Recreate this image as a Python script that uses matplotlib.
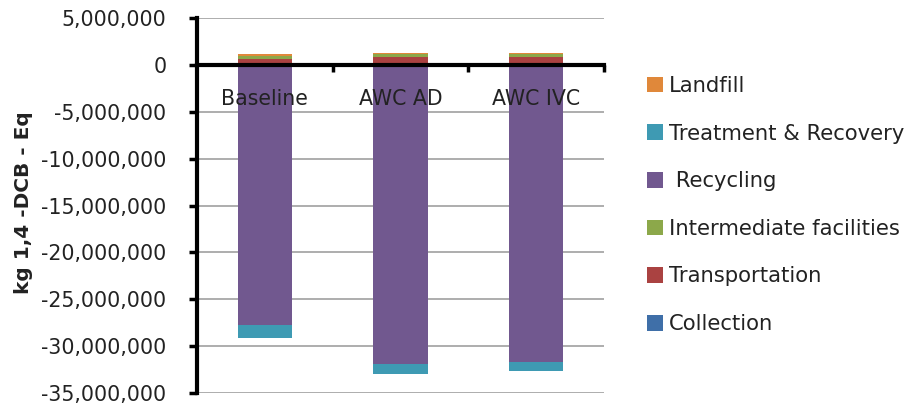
import matplotlib
matplotlib.use("Agg")
import matplotlib.pyplot as plt
import numpy as np
from matplotlib.patches import Patch
from matplotlib.ticker import FuncFormatter

# Scenario results, kg 1,4-DCB eq, per life-cycle stage
scenarios = ["Baseline", "AWC AD", "AWC IVC"]
collection = [30000, 30000, 30000]
transportation = [600000, 820000, 820000]
intermediate = [300000, 300000, 300000]
recycling = [-27700000, -31900000, -31700000]
treatment_recovery = [-1450000, -1070000, -1000000]
landfill = [200000, 150000, 150000]

stages = [
    ("Collection", collection, "#3F6FA8"),
    ("Transportation", transportation, "#AA4241"),
    ("Intermediate facilities", intermediate, "#8CA84A"),
    (" Recycling", recycling, "#71588F"),
    ("Treatment & Recovery", treatment_recovery, "#3E9AB3"),
    ("Landfill", landfill, "#E0883A"),
]

plt.rcParams["font.family"] = ["DejaVu Sans"]

fig = plt.figure(figsize=(9.14, 4.08), dpi=100)
ax = fig.add_axes([197 / 914, 15 / 408, (604 - 197) / 914, (393 - 18) / 408])

x = np.arange(len(scenarios))
pos_base = np.zeros(len(scenarios))
neg_base = np.zeros(len(scenarios))
for name, vals, color in stages:
    v = np.array(vals, dtype=float)
    bottom = np.where(v >= 0, pos_base, neg_base)
    ax.bar(x, v, width=0.4, bottom=bottom, color=color, edgecolor="none", zorder=3)
    pos_base = pos_base + np.where(v >= 0, v, 0)
    neg_base = neg_base + np.where(v < 0, v, 0)

ax.set_xlim(-0.5, 2.5)
ax.set_ylim(-35000000, 5000000)
ax.set_yticks(np.arange(-35000000, 5000001, 5000000))
ax.yaxis.set_major_formatter(FuncFormatter(lambda v, p: f"{int(v):,}"))
ax.grid(axis="y", color="#A0A0A0", linewidth=1.2, zorder=0)

for s in ["top", "right"]:
    ax.spines[s].set_visible(False)
ax.spines["left"].set_linewidth(3)
ax.spines["bottom"].set_position(("data", 0))
ax.spines["bottom"].set_linewidth(3)
ax.spines["bottom"].set_zorder(4)

ax.set_xticks([0.5, 1.5, 2.5])
ax.set_xticklabels([])
ax.tick_params(axis="x", direction="out", length=5, width=2.5, color="black")
ax.tick_params(axis="y", direction="out", length=6, width=2.5, color="black",
               labelsize=14.8, labelcolor="#222222", pad=16)

for xi, name in zip(x, scenarios):
    ax.text(xi, -3600000, name, ha="center", va="center", fontsize=14.8,
            color="#222222", zorder=5)

fig.text(24 / 914, (408 - 203) / 408, "kg 1,4 -DCB - Eq", rotation=90,
         ha="center", va="center", fontsize=14.5, fontweight="bold", color="#222222")

handles = [Patch(facecolor=c, edgecolor="none", label=n) for n, _, c in stages[::-1]]
fig.legend(handles=handles, loc="center left", bbox_to_anchor=(628 / 914, (408 - 205) / 408),
           frameon=False, fontsize=15.2, handlelength=0.75, handleheight=0.75,
           handletextpad=0.3, labelspacing=1.31, labelcolor="#222222")

fig.savefig("out.png", dpi=100)
